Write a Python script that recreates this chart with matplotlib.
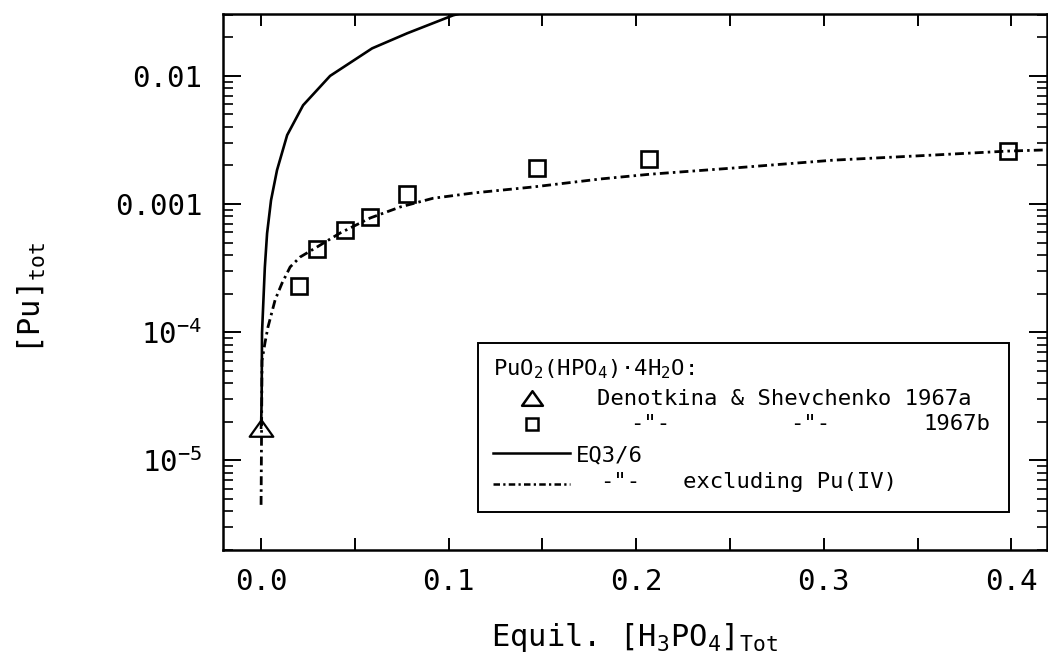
import numpy as np
import matplotlib
matplotlib.use('Agg')
import matplotlib.pyplot as plt
from matplotlib.patches import Rectangle
from matplotlib.lines import Line2D
from matplotlib.path import Path
from matplotlib.ticker import FixedLocator, LogLocator, NullFormatter

plt.rcParams['font.family'] = ['DejaVu Sans Mono', 'DejaVu Sans']
plt.rcParams['mathtext.fontset'] = 'custom'
plt.rcParams['mathtext.rm'] = 'DejaVu Sans Mono'
plt.rcParams['mathtext.it'] = 'DejaVu Sans Mono'
plt.rcParams['mathtext.bf'] = 'DejaVu Sans Mono:bold'

# ---------------- data ----------------
tri_x = [0.0]
tri_y = [1.8e-5]

sq_x = [0.020, 0.030, 0.045, 0.058, 0.078, 0.147, 0.207, 0.398]
sq_y = [2.3e-4, 4.5e-4, 6.3e-4, 7.9e-4, 1.2e-3, 1.9e-3, 2.25e-3, 2.6e-3]

eq_x = [0.0, 0.0003, 0.0005, 0.002, 0.0032, 0.0053, 0.0085, 0.0139,
        0.0224, 0.0368, 0.0592, 0.0779, 0.1024, 0.115]
eq_y = [1.8e-5, 3.0e-5, 9.9e-5, 3.2e-4, 5.9e-4, 1.07e-3, 1.84e-3, 3.45e-3,
        5.9e-3, 1.0e-2, 1.64e-2, 2.15e-2, 2.97e-2, 3.3e-2]

ex_x = [0.0, 0.0005, 0.0021, 0.0037, 0.0075, 0.0112, 0.0155, 0.0208,
        0.0299, 0.0421, 0.0581, 0.0741, 0.0917, 0.1131, 0.1451, 0.181,
        0.2075, 0.2517, 0.305, 0.358, 0.398, 0.42]
ex_y = [4.5e-6, 6.0e-5, 8.3e-5, 1.1e-4, 1.79e-4, 2.42e-4, 3.23e-4, 3.86e-4,
        4.63e-4, 5.94e-4, 7.78e-4, 9.48e-4, 1.11e-3, 1.22e-3, 1.36e-3, 1.57e-3,
        1.71e-3, 1.91e-3, 2.2e-3, 2.41e-3, 2.59e-3, 2.65e-3]

x_ticks = [0.0, 0.1, 0.2, 0.3, 0.4]
x_ticklabels = ['0.0', '0.1', '0.2', '0.3', '0.4']
x_minor = [0.05, 0.15, 0.25, 0.35]
y_ticks = [1e-5, 1e-4, 1e-3, 1e-2]
y_ticklabels = [r'$10^{-5}$', r'$10^{-4}$', '0.001', '0.01']

# ---------------- figure ----------------
W, H = 1048, 655
fig = plt.figure(figsize=(W / 100, H / 100), dpi=100)
ax = fig.add_axes([223 / W, 1 - 550 / H, 824 / W, 536 / H])


def fp(x, y):
    return (x / W, 1 - y / H)


tri_marker = Path([(0, 0.7), (-1, -0.7), (1, -0.7), (0, 0.7)],
                  [Path.MOVETO, Path.LINETO, Path.LINETO, Path.CLOSEPOLY])

dashdot = (0, (3.2, 1.5, 0.9, 1.5))

ax.plot(eq_x, eq_y, color='black', lw=1.9, solid_joinstyle='round')
ax.plot(ex_x, ex_y, color='black', lw=2.0, linestyle=dashdot)
ax.plot(sq_x, sq_y, linestyle='none', marker='s', markersize=11,
        markerfacecolor='none', markeredgecolor='black', markeredgewidth=1.9)
ax.plot(tri_x, tri_y, linestyle='none', marker=tri_marker, markersize=17,
        markerfacecolor='none', markeredgecolor='black', markeredgewidth=1.6,
        clip_on=False)

ax.set_yscale('log')
ax.set_xlim(-0.0203, 0.419)
ax.set_ylim(2.0e-6, 0.0304)

ax.set_xticks(x_ticks)
ax.set_xticklabels(x_ticklabels)
ax.xaxis.set_minor_locator(FixedLocator(x_minor))
ax.set_yticks(y_ticks)
ax.set_yticklabels(y_ticklabels)
ax.yaxis.set_minor_locator(LogLocator(base=10, subs=np.arange(2, 10)))
ax.yaxis.set_minor_formatter(NullFormatter())

ax.tick_params(axis='x', which='both', direction='in', top=True, bottom=True,
               length=8.6, width=1.4, labelsize=21, pad=13)
ax.tick_params(axis='y', which='major', direction='in', left=True, right=True,
               length=13, width=1.4, labelsize=21, pad=15)
ax.tick_params(axis='y', which='minor', direction='in', left=True, right=True,
               length=7.2, width=1.2)
for s in ax.spines.values():
    s.set_linewidth(1.8)

# axis labels
fig.text(*fp(635, 646), r'Equil. [H$_3$PO$_4$]$_{\rm Tot}$', fontsize=22,
         ha='center', va='baseline')
fig.text(*fp(32, 298), r'[Pu]$_{\rm tot}$', fontsize=22, rotation=90,
         ha='center', va='center')

# ---------------- legend (drawn manually) ----------------
lx0, ly0, lx1, ly1 = 478, 343, 1009, 512
fig.patches.append(Rectangle(fp(lx0, ly1), (lx1 - lx0) / W, (ly1 - ly0) / H,
                             transform=fig.transFigure, facecolor='white',
                             edgecolor='black', linewidth=1.4, zorder=5))
lfs = 16
fig.text(*fp(493, 375), r'PuO$_2$(HPO$_4$)·4H$_2$O:', fontsize=lfs,
         ha='left', va='baseline', zorder=6)
fig.lines.append(Line2D([fp(532, 398)[0]], [fp(532, 398)[1]],
                        transform=fig.transFigure, marker=tri_marker,
                        markersize=15, markerfacecolor='none',
                        markeredgecolor='black', markeredgewidth=1.8,
                        linestyle='none', zorder=6))
fig.text(*fp(784, 405), 'Denotkina & Shevchenko 1967a', fontsize=lfs,
         ha='center', va='baseline', zorder=6)
fig.lines.append(Line2D([fp(532, 424)[0]], [fp(532, 424)[1]],
                        transform=fig.transFigure, marker='s',
                        markersize=8.5, markerfacecolor='none',
                        markeredgecolor='black', markeredgewidth=1.8,
                        linestyle='none', zorder=6))
fig.text(*fp(650, 430), '-"-', fontsize=lfs, ha='center', va='baseline', zorder=6)
fig.text(*fp(810, 430), '-"-', fontsize=lfs, ha='center', va='baseline', zorder=6)
fig.text(*fp(990, 430), '1967b', fontsize=lfs, ha='right', va='baseline', zorder=6)
fig.lines.append(Line2D([fp(493, 453)[0], fp(570, 453)[0]],
                        [fp(493, 453)[1], fp(570, 453)[1]],
                        transform=fig.transFigure, color='black', lw=1.8, zorder=6))
fig.text(*fp(576, 461), 'EQ3/6', fontsize=lfs, ha='left', va='baseline', zorder=6)
fig.lines.append(Line2D([fp(493, 484)[0], fp(570, 484)[0]],
                        [fp(493, 484)[1], fp(570, 484)[1]],
                        transform=fig.transFigure, color='black', lw=1.8,
                        linestyle=(0, (2.6, 1.3, 0.9, 1.3)), zorder=6))
fig.text(*fp(620, 488), '-"-', fontsize=lfs, ha='center', va='baseline', zorder=6)
fig.text(*fp(790, 488), 'excluding Pu(IV)', fontsize=lfs, ha='center',
         va='baseline', zorder=6)

fig.savefig('out.png', dpi=100)
